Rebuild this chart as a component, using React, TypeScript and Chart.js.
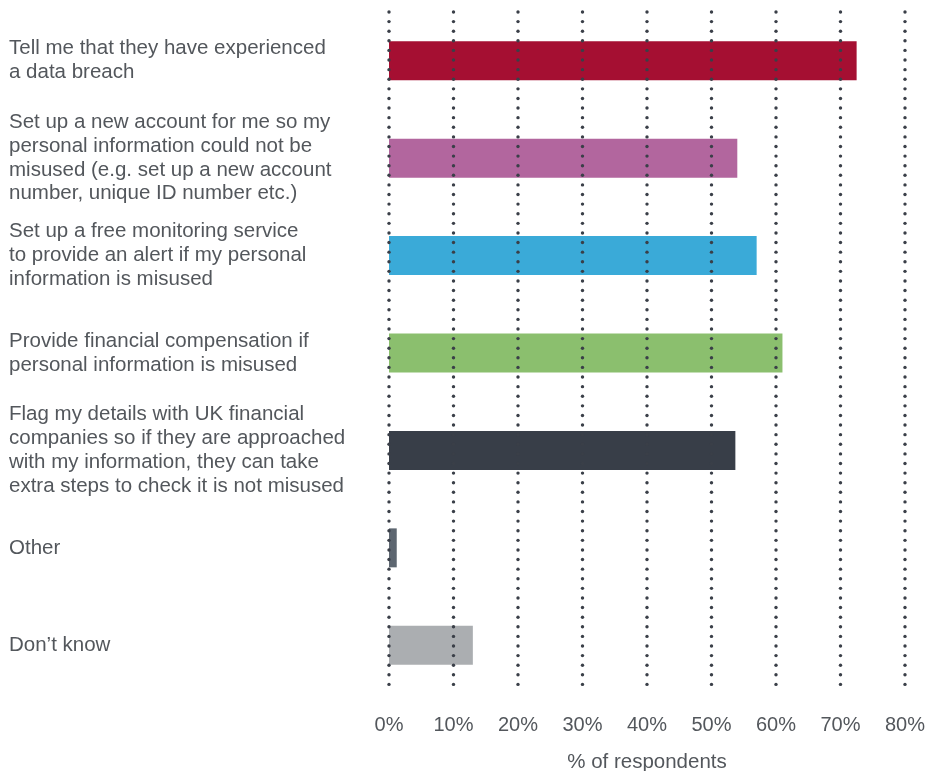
import { useEffect, useRef } from 'react';
import { Chart, registerables } from 'chart.js';

Chart.register(...registerables);

const categories: string[][] = [
  ['Tell me that they have experienced', 'a data breach'],
  ['Set up a new account for me so my', 'personal information could not be', 'misused (e.g. set up a new account', 'number, unique ID number etc.)'],
  ['Set up a free monitoring service', 'to provide an alert if my personal', 'information is misused'],
  ['Provide financial compensation if', 'personal information is misused'],
  ['Flag my details with UK financial', 'companies so if they are approached', 'with my information, they can take', 'extra steps to check it is not misused'],
  ['Other'],
  ['Don\u2019t know'],
];
const values: number[] = [72.5, 54, 57, 61, 53.7, 1.2, 13];
const barColors: string[] = ['#a50f32', '#b2669e', '#3aaad8', '#8bbf6e', '#383e48', '#5d6670', '#abaeb1'];
const xMin = 0;
const xMax = 80;
const xStep = 10;
const xTitle = '% of respondents';

const TEXT = '#53575c';
const DOT = '#3a3f48';
const FONT = "'Liberation Sans', Arial, sans-serif";

const dotGrid = {
  id: 'dotGrid',
  afterDatasetsDraw(chart: any) {
    const { ctx, chartArea, scales } = chart;
    const xs = scales.x;
    ctx.save();
    ctx.fillStyle = DOT;
    const step = 9.606;
    for (let i = 0; i < xs.ticks.length; i++) {
      const x = xs.getPixelForTick(i);
      for (let y = chartArea.top; y <= chartArea.bottom - 8; y += step) {
        ctx.beginPath();
        ctx.arc(x, y, 1.7, 0, Math.PI * 2);
        ctx.fill();
      }
    }
    ctx.restore();
  },
};

export default function App() {
  const ref = useRef<HTMLCanvasElement | null>(null);
  useEffect(() => {
    if (!ref.current) return;
    const chart = new Chart(ref.current, {
      type: 'bar',
      data: {
        labels: categories,
        datasets: [
          {
            data: values,
            backgroundColor: barColors,
            borderWidth: 0,
            barPercentage: 0.4,
            categoryPercentage: 1,
          },
        ],
      },
      options: {
        indexAxis: 'y',
        animation: false,
        responsive: true,
        maintainAspectRatio: false,
        layout: { padding: { left: 9, top: 12, right: 20, bottom: 0 } },
        plugins: { legend: { display: false }, tooltip: { enabled: false } },
        scales: {
          x: {
            min: xMin,
            max: xMax,
            grid: { display: false },
            border: { display: false },
            ticks: {
              stepSize: xStep,
              padding: 11,
              color: TEXT,
              font: { family: FONT, size: 20 },
              callback: (v: any) => v + '%',
            },
            title: {
              display: true,
              text: xTitle,
              color: TEXT,
              font: { family: FONT, size: 20.5, lineHeight: 1 },
              padding: { top: 0, bottom: -2 },
            },
            afterFit: (s: any) => {
              s.height = 77;
              s.paddingLeft = 0;
              s.paddingRight = 0;
            },
          },
          y: {
            grid: { display: false },
            border: { display: false },
            ticks: {
              autoSkip: false,
              crossAlign: 'far',
              padding: 0,
              color: TEXT,
              font: { family: FONT, size: 20.5, lineHeight: 1.16 },
            },
            afterFit: (s: any) => {
              s.width = 380;
            },
          },
        },
      },
      plugins: [dotGrid],
    } as any);
    return () => chart.destroy();
  }, []);
  return (
    <div style={{ position: 'absolute', left: 0, top: 0, width: 925, height: 771, background: '#fff' }}>
      <canvas ref={ref} />
    </div>
  );
}
